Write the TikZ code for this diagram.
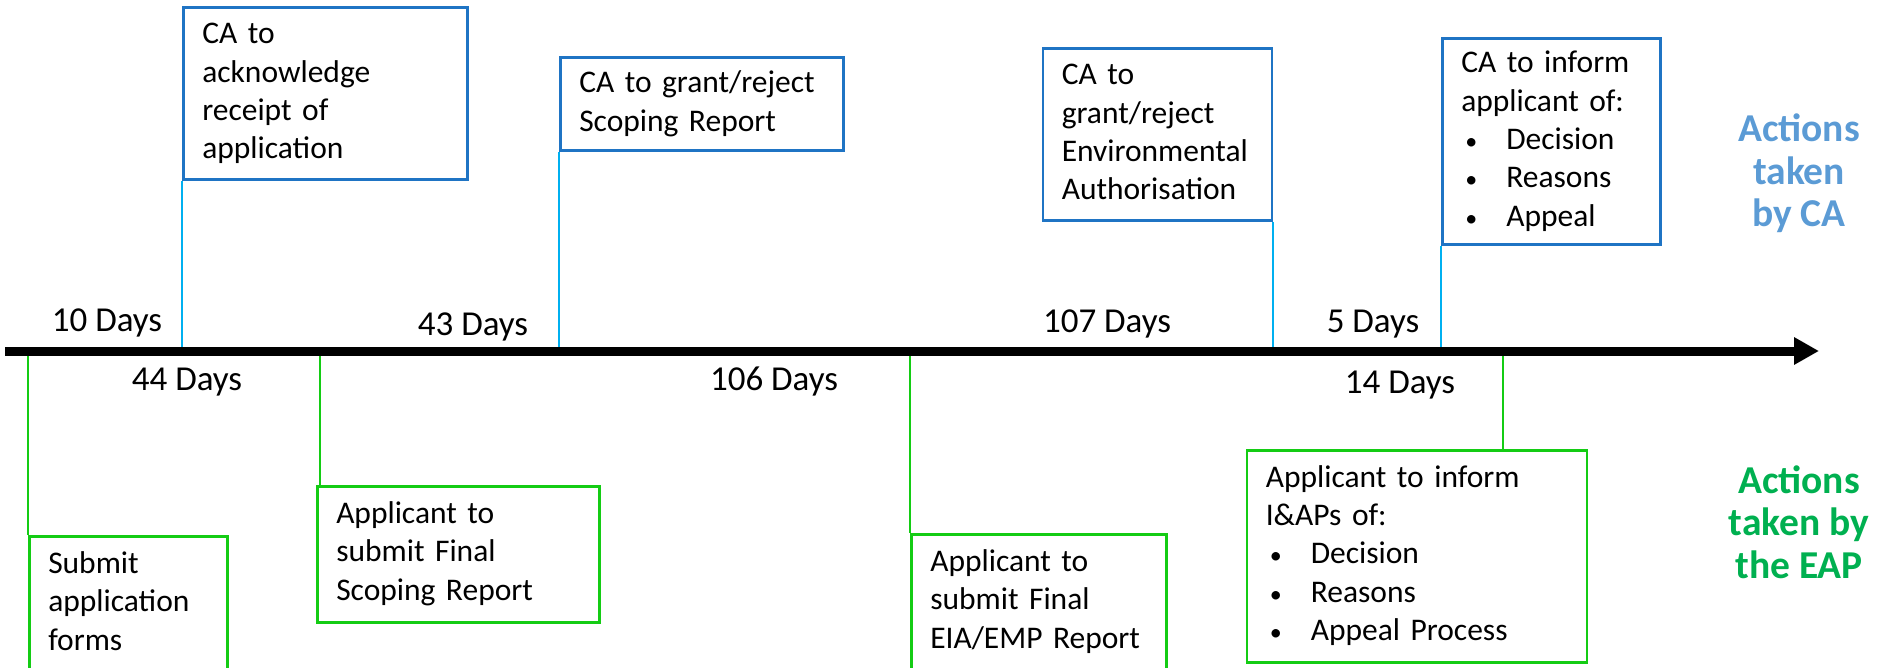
\documentclass[tikz,border=0pt]{standalone}
\usepackage{fontspec}
\setmainfont{Carlito}
\usetikzlibrary{positioning}
\usetikzlibrary{arrows.meta}
\definecolor{caframe}{HTML}{1F74C4}
\definecolor{caline}{HTML}{00B0F0}
\definecolor{eapgreen}{HTML}{14CC14}
\definecolor{catitle}{HTML}{5B9BD5}
\definecolor{eaptitle}{HTML}{00B050}
\newcommand{\boxfont}{\fontsize{31.5}{38.3}\selectfont}
\newcommand{\dayfont}{\fontsize{35}{42}\selectfont}
\newcommand{\sidefont}{\fontsize{39.5}{42.5}\selectfont\bfseries}
\newcommand{\bull}[1]{\makebox[45pt][l]{\hspace{4pt}{\fontsize{24}{24}\selectfont\textbullet}}#1}

\begin{document}
\begin{tikzpicture}[
x=1pt, y=-1pt,
node distance = 0pt,
castep/.style={rectangle, draw=caframe, line width=2.5pt, align=left, inner xsep=19pt, inner ysep=0pt, font=\boxfont, execute at begin node=\strut, execute at end node=\strut},
eapstep/.style={castep, draw=eapgreen},
calink/.style={draw=caline, line width=2pt},
eaplink/.style={draw=eapgreen, line width=2pt},
days/.style={font=\dayfont, anchor=base, inner sep=0pt},
side/.style={font=\sidefont, align=center, anchor=base, inner sep=0pt},
timeline/.style={line width=9pt, -{Triangle[length=25pt,width=26pt]}}]
\useasboundingbox (0,0) rectangle (1879,668);
\coordinate (tstart) at (5,351);
\coordinate (tend) at (1819,351);
\coordinate (tack) at (182,351);
\coordinate (tscope) at (559,351);
\coordinate (tauth) at (1273,351);
\coordinate (tcainf) at (1441,351);
\coordinate (tsub) at (28,351);
\coordinate (tfsr) at (320,351);
\coordinate (teia) at (910,351);
\coordinate (tinf) at (1503,351);

\node [castep, text width=246pt, minimum height=172pt, above right=170pt and 0pt of tack] (ack) {CA to\\acknowledge\\receipt of\\application};
\node [castep, text width=245pt, minimum height=93pt, above right=199pt and 0pt of tscope] (scope) {CA to grant/reject\\Scoping Report};
\node [castep, text width=191pt, minimum height=172pt, above left=129pt and 0pt of tauth] (auth) {CA to\\grant/reject\\Environmental\\Authorisation};
\node [castep, text width=180pt, minimum height=206pt, above right=105pt and 0pt of tcainf] (cainf) {CA to inform\\applicant of:\\\bull{Decision}\\\bull{Reasons}\\\bull{Appeal}};

\node [eapstep, text width=160pt, minimum height=136pt, below right=184pt and 0pt of tsub] (sub) {Submit\\application\\forms};
\node [eapstep, text width=244pt, minimum height=136pt, below right=134pt and -4pt of tfsr] (fsr) {Applicant to\\submit Final\\Scoping Report};
\node [eapstep, text width=217pt, minimum height=136pt, below right=182pt and 0pt of teia] (eia) {Applicant to\\submit Final\\EIA/EMP Report};
\node [eapstep, text width=302pt, minimum height=212pt, below left=98pt and -85pt of tinf] (inf) {Applicant to inform\\I\&APs of:\\\bull{Decision}\\\bull{Reasons}\\\bull{Appeal Process}};

\draw [calink] (ack.south west) -- (tack);
\draw [calink] (scope.south west) -- (tscope);
\draw [calink] (auth.south east) -- (tauth);
\draw [calink] (cainf.south west) -- (tcainf);
\draw [eaplink] (tsub) -- (sub.north west);
\draw [eaplink] (tfsr) -- (tfsr |- fsr.north);
\draw [eaplink] (teia) -- (eia.north west);
\draw [eaplink] (tinf) -- (tinf |- inf.north);
\draw [timeline] (tstart) -- (tend);

\node [days] (d10) at (107,331) {10 Days};
\node [days] (d43) at (473,335) {43 Days};
\node [days] (d107) at (1107,332) {107 Days};
\node [days] (d5) at (1373,332) {5 Days};
\node [days] (d44) at (187,390) {44 Days};
\node [days] (d106) at (774,390) {106 Days};
\node [days] (d14) at (1400,393) {14 Days};

\node [side, text=catitle] (byca) at (1799,227) {Actions\\taken\\by CA};
\node [side, text=eaptitle] (byeap) at (1799,578) {Actions\\taken by\\the EAP};
\end{tikzpicture}
\end{document}
